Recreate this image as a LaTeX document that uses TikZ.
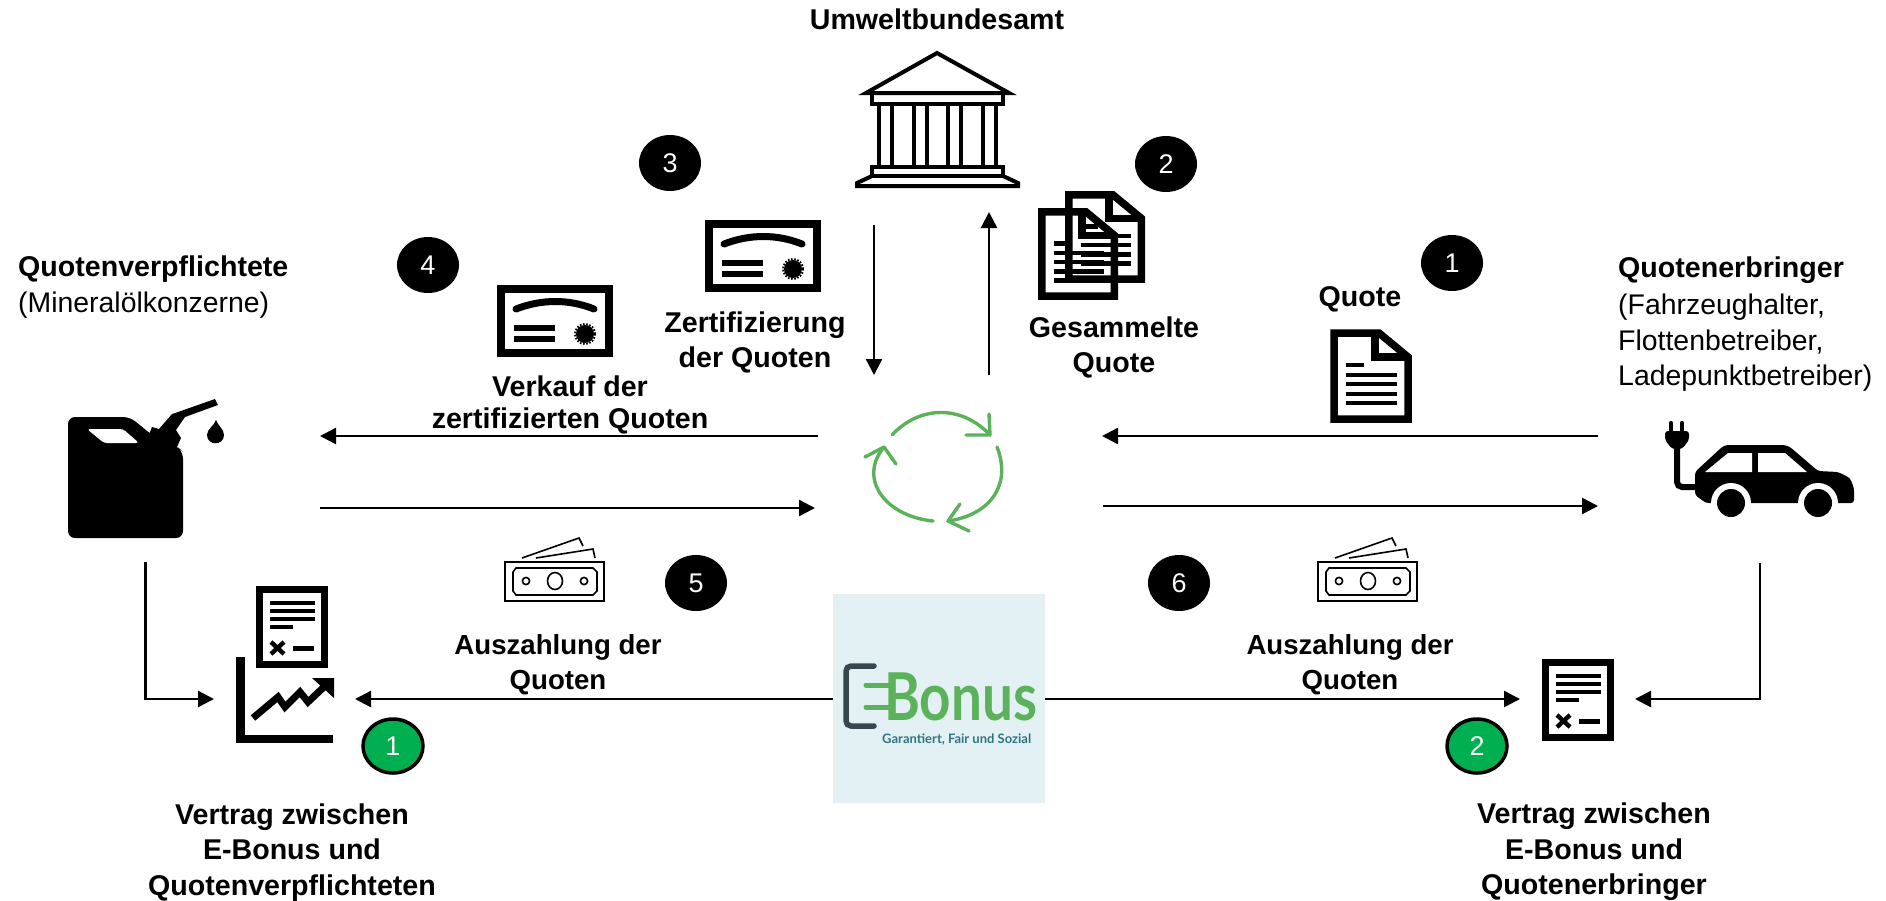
\documentclass[tikz,border=0pt]{standalone}
\usepackage{fontspec}
\setmainfont{Liberation Sans}
\newfontfamily\logofont{Lato}
\usetikzlibrary{arrows.meta,shapes.geometric}
\definecolor{ebgreen}{HTML}{5BB25A}
\definecolor{ebdark}{HTML}{37474F}
\definecolor{ebpale}{HTML}{E3F1F4}
\definecolor{ebteal}{HTML}{2F7480}
\definecolor{okgreen}{HTML}{00B050}
\tikzset{
  conn/.style={line width=2.4pt,-{Triangle[length=16pt,width=16pt]}},
  hd/.style={font=\fontsize{28.6}{35.5}\selectfont\bfseries,align=center,inner sep=0pt,yshift=-2pt},
  hdsmall/.style={hd,font=\fontsize{27.6}{35.5}\selectfont\bfseries},
  hdl/.style={hd,align=left},
  plain/.style={font=\fontsize{28.4}{35.5}\selectfont,align=left,inner sep=0pt,yshift=-2pt},
  blackdot/.style={ellipse,fill=black,text=white,minimum width=62pt,minimum height=56pt,inner sep=0pt,font=\fontsize{27}{30}\selectfont},
  greendot/.style={ellipse,draw=black,line width=3.5pt,fill=okgreen,text=white,minimum width=60pt,minimum height=54pt,inner sep=0pt,font=\fontsize{27}{30}\selectfont},
  pics/foldpage/.style={code={
    \draw[line width=7.5pt,line join=miter] (4,4) -- (49,4) -- (78,28) -- (78,90) -- (4,90) -- cycle;
    \draw[line width=7.5pt,line join=miter] (45,4) -- (45,28) -- (78,28);
    \draw[line width=4.6pt] (16,36) -- (34,36);
    \foreach \yy in {46,55,65,74} \draw[line width=4.6pt] (16,\yy) -- (67,\yy);
  }},
  pics/cert/.style={code={
    \draw[line width=8pt] (4,4) rectangle (112,68);
    \draw[line width=7pt,line cap=round] (19,24) .. controls (45,14) and (72,14) .. (97,24);
    \draw[line width=6pt] (17,43) -- (58,43) (17,54) -- (58,54);
    \fill (88,49) circle (9pt);
    \draw[line width=2pt,dash pattern=on 1.6pt off 1.6pt] (88,49) circle (10pt);
  }},
  pics/contract/.style={code={
    \draw[line width=7pt] (3.5,3.5) rectangle (68.5,78.5);
    \draw[line width=4.4pt] (14,17) -- (59,17) (14,25) -- (59,25) (14,33) -- (59,33) (14,41) -- (37,41);
    \draw[line width=4.4pt] (15,56) -- (28,68) (28,56) -- (15,68);
    \draw[line width=5pt] (37,62) -- (58,62);
  }},
  pics/money/.style={code={
    \draw[line width=1.6pt] (0,0) rectangle (99,39);
    \draw[line width=1.6pt] (11,6) -- (88,6) -- (92,10) -- (92,29) -- (88,33) -- (11,33) -- (8,29) -- (8,10) -- cycle;
    \draw[line width=1.6pt] (21,19) circle (3.6pt) (79,19) circle (3.6pt) (50,19) ellipse (7.5pt and 8.5pt);
    \draw[line width=1.6pt] (17,-4) -- (74,-24) -- (78,-16);
    \draw[line width=1.6pt] (31,-4) -- (88,-13) -- (90,-4);
  }}
}
\begin{document}
\begin{tikzpicture}[x=1pt,y=1pt,yscale=-1]
\useasboundingbox (0,0) rectangle (1886,900);
\fill[white] (0,0) rectangle (1886,900);

% anchors of the connectors
\coordinate (canOutW) at (818,436);
\coordinate (canInW) at (320,436);
\coordinate (canOutB) at (320,508);
\coordinate (hubW) at (815,508);
\coordinate (carE) at (1598,436);
\coordinate (hubE) at (1102,436);
\coordinate (hubE2) at (1103,506);
\coordinate (carE2) at (1598,506);
\coordinate (uba1) at (874,225);
\coordinate (hub1) at (874,375);
\coordinate (hub2) at (989,375);
\coordinate (uba2) at (989,212);
\coordinate (chartR) at (355,699);
\coordinate (docL) at (1520,699);
\coordinate (canDown) at (145.5,562);
\coordinate (canCorner) at (145.5,699);
\coordinate (chartL) at (214,699);
\coordinate (carDown) at (1760,563);
\coordinate (carCorner) at (1760,699);
\coordinate (docR) at (1635,699);

% logo
\node[fill=ebpale,minimum width=212pt,minimum height=209pt,inner sep=0pt] (logo) at (939,698.5) {};
\draw[ebdark,line width=5.5pt,line cap=round,rounded corners=5pt] (874,666) -- (846,666) -- (846,726) -- (874,726);
\draw[ebgreen,line width=5pt,line cap=round] (866,685) -- (890,685) (866,707) -- (890,707);
\node[inner sep=0pt,anchor=base west,text=ebgreen,font=\logofont\fontsize{66}{66}\selectfont\bfseries] (bonusword) at (884,720) {\scalebox{.83}[1]{Bonus}};
\node[inner sep=0pt,anchor=base west,text=ebteal,font=\logofont\fontsize{13}{14}\selectfont\bfseries] (slogan) at (882,743) {Garantiert, Fair und Sozial};

% connectors
\draw[conn] (canOutW) -- (canInW);
\draw[conn] (canOutB) -- (hubW);
\draw[conn] (carE) -- (hubE);
\draw[conn] (hubE2) -- (carE2);
\draw[conn] (uba1) -- (hub1);
\draw[conn] (hub2) -- (uba2);
\draw[conn] (logo.west |- chartR) -- (chartR);
\draw[conn] (logo.east |- docL) -- (docL);
\draw[conn] (canDown) -- (canCorner) -- (chartL);
\draw[conn] (carDown) -- (carCorner) -- (docR);

% temple
\begin{scope}[line width=4pt]
\draw[line join=miter] (937,53) -- (866,93) -- (1009,93) -- cycle;
\draw (872,93) rectangle (1003,104);
\foreach \cx in {879,892,914,927,948,961,983,996} \draw (\cx,104) -- (\cx,167);
\draw (872,167) rectangle (1003,176);
\draw (872,176) -- (857,183) -- (857,186) -- (1018,186) -- (1018,183) -- (1003,176);
\end{scope}

% recycling arrows
\begin{scope}[ebgreen,line width=3.4pt,line cap=round,line join=round]
\draw (892,435) .. controls (920,405) and (962,405) .. (990,435);
\draw (989,414) -- (990,435) -- (966,435);
\draw (997,447) .. controls (1012,485) and (990,515) .. (948,521);
\draw (960,504) -- (948,521) -- (969,531);
\draw (933,521) .. controls (884,516) and (858,478) .. (884,447);
\draw (865,457) -- (884,447) -- (896,464);
\end{scope}

% documents
\pic[transform shape,scale=.98] at (1065,191) {foldpage};
\pic[transform shape,scale=.98] at (1038,208) {foldpage};
\pic[transform shape] at (1330,329) {foldpage};

% certificates
\pic[transform shape] at (705,220) {cert};
\pic[transform shape] at (497,285) {cert};

% contracts
\pic[transform shape] at (1542,659) {contract};
\pic[transform shape] at (256,586) {contract};

% chart
\draw[line width=8.5pt,line join=miter] (240.5,657) -- (240.5,739) -- (333,739);
\draw[line width=7pt,line join=miter] (253,718) -- (278,697) -- (285,707) -- (300,692) -- (308,702) -- (325,686);
\fill (312,678) -- (334,678) -- (334,698) -- cycle;

% money
\pic[transform shape] at (505,562) {money};
\pic[transform shape] at (1318,562) {money};

% canister
\begin{scope}
\fill[rounded corners=7pt] (68,417) -- (130,417) -- (152,435) -- (178,447) -- (183,452) -- (183,538) -- (68,538) -- cycle;
\fill (148,437) -- (152,427) -- (159,429) -- (172,414) -- (178,412) -- (215,399) -- (218,405) -- (185,417) -- (176,430) -- (181,438) -- (177,447) -- (165,455) -- cycle;
\fill[white,rounded corners=3pt] (87,429) -- (123,429) -- (139,443) -- (104,443) -- cycle;
\fill (216,420) .. controls (218,426) and (224,429) .. (224,435) .. controls (224,446) and (207,446) .. (207,435) .. controls (207,429) and (214,426) .. (216,420) -- cycle;
\end{scope}

% car
\fill[rounded corners=3pt] (1695,472) -- (1722,447) -- (1726,445) -- (1785,445) -- (1790,447) -- (1818,471) -- (1838,472) -- (1850,478) -- (1854,488) -- (1854,503) -- (1706,503) -- (1695,495) -- cycle;
\fill[white] (1705,472) -- (1728,453) -- (1752,453) -- (1752,472) -- cycle;
\fill[white] (1758,453) -- (1785,453) -- (1807,472) -- (1758,472) -- cycle;
\fill[white] (1731,503) circle (20pt) (1818,503) circle (20pt);
\fill (1731,503) circle (14pt) (1818,503) circle (14pt);
\draw[line width=6pt,rounded corners=5pt] (1697,487) -- (1677,487) -- (1677,445);
\fill[rounded corners=3pt] (1665,431) -- (1689,431) -- (1689,440) -- (1682,449) -- (1672,449) -- (1665,440) -- cycle;
\draw[line width=4.3pt,line cap=round] (1671,423) -- (1671,432) (1682,423) -- (1682,432);

% circled numbers
\node[blackdot] (n3) at (670,163) {3};
\node[blackdot] (n2) at (1166,164) {2};
\node[blackdot] (n1) at (1452,263) {1};
\node[blackdot] (n4) at (428,265) {4};
\node[blackdot] (n5) at (696,583) {5};
\node[blackdot] (n6) at (1179,583) {6};
\node[greendot] (g1) at (393,746) {1};
\node[greendot] (g2) at (1477,746) {2};

% labels
\node[hd] (tUba) at (937,17) {Umweltbundesamt};
\node[hdl,anchor=west] (tObl) at (18,267) {Quotenverpflichtete};
\node[plain,anchor=west] (tOblB) at (18,303) {(Mineralölkonzerne)};
\node[hdl,anchor=west] (tProv) at (1618,268) {Quotenerbringer};
\node[plain,anchor=north west] (tProvB) at (1618,292) {(Fahrzeughalter,\\Flottenbetreiber,\\Ladepunktbetreiber)};
\node[hd] (tZert) at (755,340.5) {Zertifizierung\\der Quoten};
\node[hd] (tVerk) at (570,384) {Verkauf der};
\node[hd] (tVerkB) at (570,419) {zertifizierten Quoten};
\node[hd] (tGes) at (1114,345.5) {Gesammelte\\Quote};
\node[hd] (tQuote) at (1360,297) {Quote};
\node[hdsmall] (tAusL) at (558,662.5) {Auszahlung der\\Quoten};
\node[hdsmall] (tAusR) at (1350,662.5) {Auszahlung der\\Quoten};
\node[hd] (tVL) at (292,850.5) {Vertrag zwischen\\E-Bonus und\\Quotenverpflichteten};
\node[hd] (tVR) at (1594,850) {Vertrag zwischen\\E-Bonus und\\Quotenerbringer};
\end{tikzpicture}
\end{document}
